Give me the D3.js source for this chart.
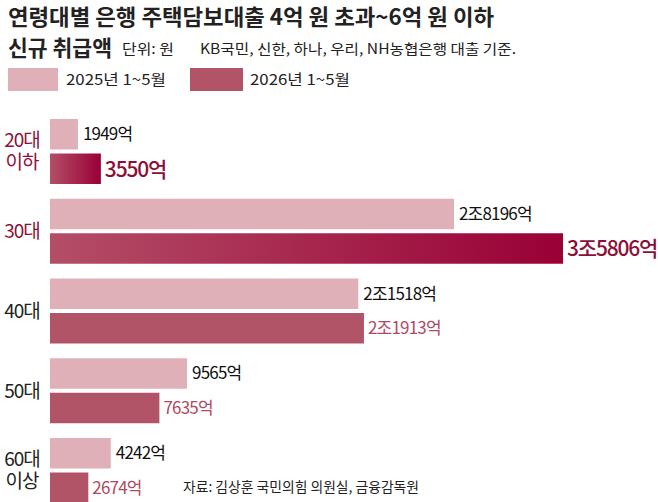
<!DOCTYPE html>
<html>
<head>
<meta charset="utf-8">
<script src="https://cdn.jsdelivr.net/npm/d3@7"></script>
<style>
  body { margin: 0; background: #fff; }
  svg text { font-family: "Noto Sans CJK KR", "Noto Sans", sans-serif; }
</style>
</head>
<body>
<svg id="chart" width="658" height="502"></svg>
<script>
// 연령대 (두 줄 라벨)
const ageGroups = [["20대", "이하"], ["30대"], ["40대"], ["50대"], ["60대", "이상"]];
// 단위: 억 원
const values2025 = [1949, 28196, 21518, 9565, 4242];
const values2026 = [3550, 35806, 21913, 7635, 2674];
const labels2025 = ["1949억", "2조8196억", "2조1518억", "9565억", "4242억"];
const labels2026 = ["3550억", "3조5806억", "2조1913억", "7635억", "2674억"];
const highlight = [true, true, false, false, false];
const seriesNames = ["2025년 1~5월", "2026년 1~5월"];

const svg = d3.select("#chart");
const LIGHT = "#dfb0b7", DARK = "#b25468", CRIMSON = "#8c0f37";

// 그라디언트 (강조 막대)
const defs = svg.append("defs");
const grad = defs.append("linearGradient").attr("id", "grad").attr("x1", "0%").attr("x2", "100%");
grad.append("stop").attr("offset", "0%").attr("stop-color", "#b44e67");
grad.append("stop").attr("offset", "100%").attr("stop-color", "#990036");

// 제목
svg.append("text").attr("x", 8).attr("y", 25)
  .attr("font-size", 22).attr("font-weight", 700).attr("fill", "#222")
  .attr("textLength", 486).attr("lengthAdjust", "spacingAndGlyphs")
  .text("연령대별 은행 주택담보대출 4억 원 초과~6억 원 이하");
svg.append("text").attr("x", 8).attr("y", 56)
  .attr("font-size", 22).attr("font-weight", 700).attr("fill", "#222")
  .attr("textLength", 104).attr("lengthAdjust", "spacingAndGlyphs")
  .text("신규 취급액");
svg.append("text").attr("x", 122).attr("y", 54)
  .attr("font-size", 14).attr("fill", "#222")
  .attr("textLength", 52).attr("lengthAdjust", "spacingAndGlyphs")
  .text("단위: 원");
svg.append("text").attr("x", 200).attr("y", 54)
  .attr("font-size", 14).attr("fill", "#222")
  .attr("textLength", 316).attr("lengthAdjust", "spacingAndGlyphs")
  .text("KB국민, 신한, 하나, 우리, NH농협은행 대출 기준.");

// 범례
const legend = svg.append("g");
[[8, 58, LIGHT, 66], [190, 243, DARK, 250]].forEach((d, i) => {
  legend.append("rect").attr("x", d[0]).attr("y", 68).attr("width", d[1] - d[0]).attr("height", 23).attr("fill", d[2]);
  legend.append("text").attr("x", d[3]).attr("y", 85).attr("font-size", 15).attr("fill", "#222")
    .attr("textLength", 100).attr("lengthAdjust", "spacingAndGlyphs")
    .text(seriesNames[i]);
});

// 척도
const x = d3.scaleLinear().domain([0, 35806]).range([50, 563]);
const y = d3.scaleBand().domain(d3.range(ageGroups.length)).range([119, 503]).paddingInner(0.185).paddingOuter(0);
const barH = (y.bandwidth() - 4) / 2;

const groups = svg.selectAll("g.grp").data(ageGroups).join("g").attr("class", "grp")
  .attr("transform", (d, i) => `translate(0,${y(i)})`);

// 2025 막대
groups.append("rect").attr("x", x(0)).attr("y", 0).attr("height", barH)
  .attr("width", (d, i) => x(values2025[i]) - x(0)).attr("fill", LIGHT);
// 2026 막대
groups.append("rect").attr("x", x(0)).attr("y", barH + 4).attr("height", barH)
  .attr("width", (d, i) => x(values2026[i]) - x(0))
  .attr("fill", (d, i) => highlight[i] ? "url(#grad)" : DARK);

// 값 라벨
groups.append("text").attr("x", (d, i) => x(values2025[i]) + 5).attr("y", barH / 2 + 6)
  .attr("font-size", 17).attr("fill", "#111").attr("letter-spacing", -0.8)
  .text((d, i) => labels2025[i]);
groups.append("text").attr("x", (d, i) => x(values2026[i]) + 4)
  .attr("y", (d, i) => barH + 4 + barH / 2 + (highlight[i] ? 8 : 6))
  .attr("font-size", (d, i) => highlight[i] ? 21 : 17)
  .attr("font-weight", (d, i) => highlight[i] ? 500 : 400)
  .attr("fill", (d, i) => highlight[i] ? CRIMSON : "#b04a62")
  .attr("letter-spacing", (d, i) => highlight[i] ? -1.2 : -0.8)
  .text((d, i) => labels2026[i]);

// 연령대 라벨
groups.each(function (d, i) {
  const g = d3.select(this);
  const mid = barH + 2;
  const color = highlight[i] ? CRIMSON : "#222";
  const lh = 22;
  d.forEach((line, j) => {
    g.append("text").attr("x", 22).attr("text-anchor", "middle")
      .attr("y", mid + 7 + (j - (d.length - 1) / 2) * lh)
      .attr("font-size", 19).attr("fill", color).attr("letter-spacing", -1)
      .text(line);
  });
});

// 출처
svg.append("text").attr("x", 183).attr("y", 492).attr("font-size", 14).attr("fill", "#222")
  .attr("textLength", 236).attr("lengthAdjust", "spacingAndGlyphs")
  .text("자료: 김상훈 국민의힘 의원실, 금융감독원");
</script>
</body>
</html>
